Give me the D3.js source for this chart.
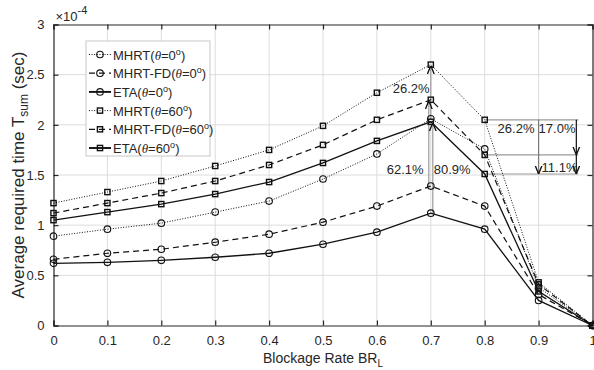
<!DOCTYPE html>
<html>
<head>
<meta charset="utf-8">
<script src="https://cdn.jsdelivr.net/npm/d3@7"></script>
<style>
  body { margin: 0; background: #fff; }
  text { font-family: "Liberation Sans", Arial, sans-serif; fill: #262626; }
</style>
</head>
<body>
<div id="target"></div>
<script>
let width = 594,
  height = 370,
  margin = { top: 24.5, right: 1.5, bottom: 44.5, left: 53.5 }

// blockage rate BR_L
let rates = [0, 0.1, 0.2, 0.3, 0.4, 0.5, 0.6, 0.7, 0.8, 0.9, 1]
// average required time, x 1e-4 sec
let mhrt0 = [0.89, 0.96, 1.02, 1.13, 1.24, 1.46, 1.71, 2.06, 1.76, 0.38, 0]
let mhrtFd0 = [0.66, 0.72, 0.76, 0.83, 0.91, 1.03, 1.19, 1.39, 1.19, 0.31, 0]
let eta0 = [0.62, 0.63, 0.65, 0.68, 0.72, 0.81, 0.93, 1.12, 0.96, 0.25, 0]
let mhrt60 = [1.22, 1.33, 1.44, 1.59, 1.75, 1.99, 2.32, 2.60, 2.05, 0.43, 0]
let mhrtFd60 = [1.12, 1.22, 1.32, 1.44, 1.60, 1.80, 2.05, 2.25, 1.70, 0.41, 0]
let eta60 = [1.05, 1.13, 1.21, 1.31, 1.43, 1.62, 1.84, 2.03, 1.51, 0.34, 0]

let xTicks = [0, 0.1, 0.2, 0.3, 0.4, 0.5, 0.6, 0.7, 0.8, 0.9, 1]
let yTicks = [0, 0.5, 1, 1.5, 2, 2.5, 3]
let gainLabels = ["26.2%", "62.1%", "80.9%", "26.2%", "17.0%", "11.1%"]

let series = [
  { name: "MHRT", theta: "0", values: mhrt0, dash: "1,1.6", marker: "circle", w: 1 },
  { name: "MHRT-FD", theta: "0", values: mhrtFd0, dash: "6,4", marker: "circle", w: 1.2 },
  { name: "ETA", theta: "0", values: eta0, dash: null, marker: "circle", w: 1.3 },
  { name: "MHRT", theta: "60", values: mhrt60, dash: "1,1.6", marker: "square", w: 1 },
  { name: "MHRT-FD", theta: "60", values: mhrtFd60, dash: "6,4", marker: "square", w: 1.2 },
  { name: "ETA", theta: "60", values: eta60, dash: null, marker: "square", w: 1.3 }
]

let iw = width - margin.left - margin.right,
  ih = height - margin.top - margin.bottom

let svg = d3.select("#target").append("svg")
  .attr("width", width)
  .attr("height", height)

let defs = svg.append("defs")
defs.append("marker")
  .attr("id", "arr")
  .attr("viewBox", "0 0 10 10")
  .attr("refX", 10).attr("refY", 5)
  .attr("markerWidth", 7).attr("markerHeight", 7)
  .attr("orient", "auto-start-reverse")
  .append("path")
  .attr("d", "M0,1 L10,5 L0,9")
  .attr("fill", "none")
  .attr("stroke", "#111")
  .attr("stroke-width", 1.6)

let g = svg.append("g")
  .attr("transform", "translate(" + margin.left + "," + margin.top + ")")

let x = d3.scaleLinear().domain([0, 1]).range([0, iw])
let y = d3.scaleLinear().domain([0, 3]).range([ih, 0])

// grid
g.append("g").selectAll("line").data(xTicks.slice(1, -1)).enter().append("line")
  .attr("x1", d => x(d)).attr("x2", d => x(d))
  .attr("y1", 0).attr("y2", ih)
  .attr("stroke", "#dcdcdc").attr("stroke-width", 1)
g.append("g").selectAll("line").data(yTicks.slice(1, -1)).enter().append("line")
  .attr("x1", 0).attr("x2", iw)
  .attr("y1", d => y(d)).attr("y2", d => y(d))
  .attr("stroke", "#dcdcdc").attr("stroke-width", 1)

// axes (ticks on all sides, inward)
let xAxis = d3.axisBottom(x).tickValues(xTicks).tickSize(-5).tickPadding(10)
  .tickFormat(d => d3.format("~g")(d))
let yAxis = d3.axisLeft(y).tickValues(yTicks).tickSize(-5).tickPadding(9)
  .tickFormat(d => d3.format("~g")(d))

function styleAxis(sel) {
  sel.select(".domain").attr("stroke", "#262626").attr("stroke-width", 1.2)
  sel.selectAll(".tick line").attr("stroke", "#262626").attr("stroke-width", 1.2)
  sel.selectAll("text").style("font-size", "13px").attr("fill", "#262626")
    .style("font-family", "'Liberation Sans', Arial, sans-serif")
}

g.append("g").attr("transform", "translate(0," + ih + ")").call(xAxis).call(styleAxis)
g.append("g").call(yAxis).call(styleAxis)
g.append("g").call(d3.axisTop(x).tickValues(xTicks).tickSize(-5).tickFormat(""))
  .call(styleAxis)
g.append("g").attr("transform", "translate(" + iw + ",0)")
  .call(d3.axisRight(y).tickValues(yTicks).tickSize(-5).tickFormat(""))
  .call(styleAxis)

// exponent
let expo = svg.append("text").attr("x", margin.left + 2).attr("y", 21)
  .style("font-size", "13px")
expo.append("tspan").text("\u00d710")
expo.append("tspan").attr("dy", -7).style("font-size", "11px").text("-4")

// annotation lines at 0.7
let ann = g.append("g")
let at7 = 7, at8 = 8
let vpairs = [
  { lo: mhrt0[at7], hi: mhrt60[at7], dx: 0 },
  { lo: mhrtFd0[at7], hi: mhrtFd60[at7], dx: -2 },
  { lo: eta0[at7], hi: eta60[at7], dx: 2 }
]
ann.selectAll("line.v7").data(vpairs).enter().append("line")
  .attr("x1", d => x(rates[at7]) + d.dx).attr("x2", d => x(rates[at7]) + d.dx)
  .attr("y1", d => y(d.lo)).attr("y2", d => y(d.hi) + 1)
  .attr("stroke", "#9a9a9a").attr("stroke-width", 1.2)
  .attr("marker-end", "url(#arr)")

// annotation lines at 0.8
let hvals = [mhrt60[at8], mhrtFd60[at8], eta60[at8]]
let xEnd = 0.97
ann.selectAll("line.h8").data(hvals).enter().append("line")
  .attr("x1", x(rates[at8])).attr("x2", x(xEnd) + 2)
  .attr("y1", d => y(d)).attr("y2", d => y(d))
  .attr("stroke", "#9a9a9a").attr("stroke-width", 1.2)
ann.append("line")
  .attr("x1", x(0.9)).attr("x2", x(0.9))
  .attr("y1", y(mhrt60[at8])).attr("y2", y(eta60[at8]))
  .attr("stroke", "#7a7a7a").attr("stroke-width", 1.2)
  .attr("marker-end", "url(#arr)")
ann.append("line")
  .attr("x1", x(xEnd)).attr("x2", x(xEnd))
  .attr("y1", y(mhrt60[at8])).attr("y2", y(mhrtFd60[at8]))
  .attr("stroke", "#111").attr("stroke-width", 1.2)
  .attr("marker-end", "url(#arr)")
ann.append("line")
  .attr("x1", x(xEnd)).attr("x2", x(xEnd))
  .attr("y1", y(mhrtFd60[at8])).attr("y2", y(eta60[at8]))
  .attr("stroke", "#111").attr("stroke-width", 1.2)
  .attr("marker-end", "url(#arr)")

// series lines
let line = d3.line().x((d, i) => x(rates[i])).y(d => y(d))
series.forEach(s => {
  g.append("path")
    .datum(s.values)
    .attr("d", line)
    .attr("fill", "none")
    .attr("stroke", "#111")
    .attr("stroke-width", s.w)
    .attr("stroke-dasharray", s.dash)
})

function drawMarker(sel, kind, cx, cy) {
  if (kind === "circle") {
    sel.append("circle").attr("cx", cx).attr("cy", cy).attr("r", 3.3)
      .attr("fill", "none").attr("stroke", "#111").attr("stroke-width", 1.1)
  } else {
    sel.append("rect").attr("x", cx - 2.6).attr("y", cy - 2.6)
      .attr("width", 5.2).attr("height", 5.2)
      .attr("fill", "none").attr("stroke", "#111").attr("stroke-width", 1.4)
  }
}
series.forEach(s => {
  let mg = g.append("g")
  s.values.forEach((v, i) => drawMarker(mg, s.marker, x(rates[i]), y(v)))
})

// annotation text
let tx = [
  { t: gainLabels[0], x: x(rates[at7]) - 38, y: y((mhrt0[at7] + mhrt60[at7]) / 2) + 1 },
  { t: gainLabels[1], x: x(rates[at7]) - 44, y: y(1.51) },
  { t: gainLabels[2], x: x(rates[at7]) + 3, y: y(1.51) },
  { t: gainLabels[3], x: x(0.9) - 41, y: y(mhrt60[at8]) + 13 },
  { t: gainLabels[4], x: x(0.9), y: y(mhrt60[at8]) + 13 },
  { t: gainLabels[5], x: x(0.9) + 3, y: y(eta60[at8]) - 1.5 }
]
g.append("g").selectAll("text").data(tx).enter().append("text")
  .attr("x", d => d.x).attr("y", d => d.y)
  .style("font-size", "13px")
  .text(d => d.t)

// legend
let lg = svg.append("g").attr("transform", "translate(86,41)")
lg.append("rect").attr("width", 124).attr("height", 115)
  .attr("fill", "#fff").attr("stroke", "#c8c8c8").attr("stroke-width", 1)
series.forEach((s, i) => {
  let ly = 13.5 + i * 18.7
  lg.append("line").attr("x1", 3).attr("x2", 25).attr("y1", ly).attr("y2", ly)
    .attr("stroke", "#111").attr("stroke-width", s.w + (s.dash ? 0 : 0.6))
    .attr("stroke-dasharray", s.dash)
  drawMarker(lg, s.marker, 14, ly)
  let t = lg.append("text").attr("x", 27).attr("y", ly + 5).style("font-size", "13px")
  t.append("tspan").text(s.name + "(")
  t.append("tspan").style("font-family", "'Liberation Serif', serif").style("font-style", "italic").text("\u03b8")
  t.append("tspan").text("=" + s.theta)
  t.append("tspan").attr("dy", -5).style("font-size", "9px").text("o")
  t.append("tspan").attr("dy", 5).text(")")
})

// axis titles
let xl = svg.append("text")
  .attr("x", margin.left + iw / 2).attr("y", 363)
  .attr("text-anchor", "middle").style("font-size", "14px")
xl.append("tspan").text("Blockage Rate BR")
xl.append("tspan").attr("dy", 4).style("font-size", "10px").text("L")

let yl = svg.append("text")
  .attr("transform", "translate(24," + (margin.top + ih / 2) + ") rotate(-90)")
  .attr("text-anchor", "middle").style("font-size", "17px")
yl.append("tspan").text("Average required time T")
yl.append("tspan").attr("dy", 4).style("font-size", "12px").text("sum")
yl.append("tspan").attr("dy", -4).text(" (sec)")
</script>
</body>
</html>
